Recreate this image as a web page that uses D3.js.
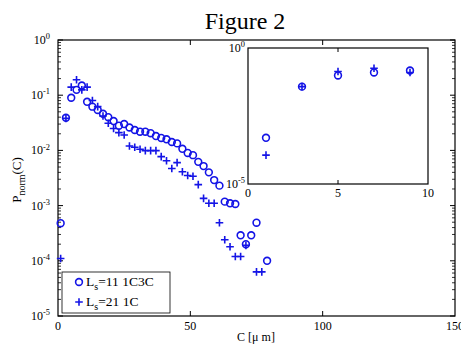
<!DOCTYPE html>
<html>
<head>
<meta charset="utf-8">
<script src="https://cdn.jsdelivr.net/npm/d3@7"></script>
<style>
  body { margin: 0; background: #fff; }
  svg { display: block; font-family: "Liberation Serif", "Times New Roman", serif; }
</style>
</head>
<body>
<svg id="chart" width="461" height="345"></svg>
<script>
// main chart, series "Ls=11 1C3C" (circles)
var circC = [1, 3, 5, 7, 9, 11, 13, 15, 17, 19, 21, 23, 25, 27, 29, 31, 33, 35, 37, 39,
             41, 43, 45, 47, 49, 51, 53, 55, 57, 59, 61, 63, 65, 67, 69, 71, 73, 75, 79];
var circP = [4.8e-4, 0.039, 0.09, 0.125, 0.15, 0.076, 0.062, 0.054, 0.046, 0.040, 0.034, 0.028, 0.030,
             0.026, 0.0234, 0.0218, 0.0218, 0.0205, 0.0182, 0.0168, 0.0159, 0.0142, 0.0134, 0.0107,
             0.0090, 0.0082, 0.0062, 0.0052, 0.0040, 0.0029, 0.0023, 0.00118, 0.00110, 0.00107,
             2.9e-4, 2.0e-4, 2.9e-4, 4.9e-4, 1.0e-4];
// series "Ls=21 1C" (plus)
var plusC = [1, 3, 5, 7, 9, 11, 13, 15, 17, 19, 21, 23, 25, 27, 29, 31, 33, 35, 37, 39,
             41, 43, 45, 47, 49, 51, 53, 55, 57, 59, 61, 63, 65, 67, 69, 71, 75, 77];
var plusP = [1.1e-4, 0.038, 0.14, 0.19, 0.125, 0.14, 0.08, 0.062, 0.042, 0.031, 0.025, 0.021, 0.019,
             0.012, 0.0114, 0.0105, 0.0099, 0.0099, 0.0099, 0.0077, 0.0065, 0.0047, 0.006, 0.0041,
             0.0035, 0.0034, 0.0024, 0.00135, 0.0011, 0.0011, 4.9e-4, 2.4e-4, 1.8e-4, 1.2e-4, 1.2e-4,
             1.9e-4, 6.3e-5, 6.3e-5];

// inset
var insetC = [1, 3, 5, 7, 9];
var insetCirc = [5e-4, 0.038, 0.098, 0.126, 0.149];
var insetPlus = [1.15e-4, 0.038, 0.137, 0.18, 0.126];

var xTicks = [0, 50, 100, 150];
var yExps = [0, -1, -2, -3, -4, -5];
var insetXTicks = [0, 5, 10];
var insetYExps = [0, -5];

var legendLabels = [["11 1C3C", "circle"], ["21 1C", "plus"]];

var blue = "#1414e6";
var svg = d3.select("#chart");

var x = d3.scaleLinear().domain([0, 150]).range([58, 455]);
var y = d3.scaleLog().domain([1e-5, 1]).range([316, 40]);

var xi = d3.scaleLinear().domain([0, 10]).range([248, 428]);
var yi = d3.scaleLog().domain([1e-5, 1]).range([184, 48]);

// title
svg.append("text").attr("x", 245).attr("y", 29).attr("text-anchor", "middle")
  .style("font-size", "24px").text("Figure 2");

function drawFrame(g, sx, sy) {
  var x0 = sx.range()[0], x1 = sx.range()[1], y0 = sy.range()[1], y1 = sy.range()[0];
  g.append("rect").attr("x", x0).attr("y", y0).attr("width", x1 - x0).attr("height", y1 - y0)
    .attr("fill", "#fff").attr("stroke", "#000").attr("stroke-width", 1.2);
}

function supLabel(g, xpos, ypos, exp, size) {
  var t = g.append("text").attr("x", xpos).attr("y", ypos).attr("text-anchor", "end")
    .style("font-size", size + "px");
  t.append("tspan").text("10");
  t.append("tspan").attr("dy", -size * 0.4).style("font-size", (size * 0.7) + "px").text(exp);
}

// main frame
var gm = svg.append("g");
drawFrame(gm, x, y);

// x ticks (bottom + top, inward)
xTicks.forEach(function(v) {
  if (v > 0 && v < 150) {
    gm.append("line").attr("x1", x(v)).attr("x2", x(v)).attr("y1", 316).attr("y2", 311).attr("stroke", "#000");
    gm.append("line").attr("x1", x(v)).attr("x2", x(v)).attr("y1", 40).attr("y2", 45).attr("stroke", "#000");
  }
  gm.append("text").attr("x", x(v)).attr("y", 330).attr("text-anchor", "middle")
    .style("font-size", "12px").text(v);
});

// y ticks with log minors, both sides
yExps.forEach(function(e) {
  var v = Math.pow(10, e);
  [58, 455].forEach(function(xp, i) {
    var d = i === 0 ? 1 : -1;
    gm.append("line").attr("x1", xp).attr("x2", xp + 5 * d).attr("y1", y(v)).attr("y2", y(v)).attr("stroke", "#000");
    if (e > -5) {
      for (var k = 2; k < 10; k++) {
        var yy = y(v * k / 10);
        gm.append("line").attr("x1", xp).attr("x2", xp + 3 * d).attr("y1", yy).attr("y2", yy)
          .attr("stroke", "#000").attr("stroke-width", 0.8);
      }
    }
  });
  supLabel(gm, 50, y(v) + 4, e, 12);
});

// axis titles
svg.append("text").attr("x", 256).attr("y", 341).attr("text-anchor", "middle")
  .style("font-size", "12px").text("C [\u03bc m]");
var yl = svg.append("text").attr("transform", "translate(21,180) rotate(-90)")
  .attr("text-anchor", "middle").style("font-size", "13px");
yl.append("tspan").text("P");
yl.append("tspan").attr("dy", 4).style("font-size", "10px").text("norm");
yl.append("tspan").attr("dy", -4).text("(C)");

function circles(g, cx, cy, xs, ys) {
  g.selectAll(null).data(xs).enter().append("circle")
    .attr("cx", function(d) { return cx(d); })
    .attr("cy", function(d, i) { return cy(ys[i]); })
    .attr("r", 3.4).attr("fill", "none").attr("stroke", blue).attr("stroke-width", 1.6);
}
function pluses(g, cx, cy, xs, ys) {
  g.selectAll(null).data(xs).enter().append("path")
    .attr("d", function(d, i) {
      var px = cx(d), py = cy(ys[i]);
      return "M" + (px - 3.8) + "," + py + "H" + (px + 3.8) + "M" + px + "," + (py - 3.8) + "V" + (py + 3.8);
    })
    .attr("stroke", blue).attr("stroke-width", 1.6).attr("fill", "none");
}

circles(gm, x, y, circC, circP);
pluses(gm, x, y, plusC, plusP);

// legend
var lg = svg.append("g");
lg.append("rect").attr("x", 62).attr("y", 272).attr("width", 108).attr("height", 41)
  .attr("fill", "#fff").attr("stroke", "#000").attr("stroke-width", 0.8);
legendLabels.forEach(function(l, i) {
  var ly = 282 + i * 20;
  if (l[1] === "circle") {
    lg.append("circle").attr("cx", 79).attr("cy", ly).attr("r", 3.4).attr("fill", "none")
      .attr("stroke", blue).attr("stroke-width", 1.6);
  } else {
    lg.append("path").attr("d", "M75.2," + ly + "H82.8M79," + (ly - 3.8) + "V" + (ly + 3.8))
      .attr("stroke", blue).attr("stroke-width", 1.6);
  }
  var t = lg.append("text").attr("x", 86).attr("y", ly + 4).style("font-size", "13.5px");
  t.append("tspan").text("L");
  t.append("tspan").attr("dy", 4).style("font-size", "10px").text("s");
  t.append("tspan").attr("dy", -4).text("=" + l[0]);
});

// inset
var gi = svg.append("g");
drawFrame(gi, xi, yi);
insetXTicks.forEach(function(v) {
  if (v > 0 && v < 10) {
    gi.append("line").attr("x1", xi(v)).attr("x2", xi(v)).attr("y1", 184).attr("y2", 180).attr("stroke", "#000");
    gi.append("line").attr("x1", xi(v)).attr("x2", xi(v)).attr("y1", 48).attr("y2", 52).attr("stroke", "#000");
  }
  gi.append("text").attr("x", xi(v)).attr("y", 197).attr("text-anchor", "middle")
    .style("font-size", "12px").text(v);
});
insetYExps.forEach(function(e) {
  supLabel(gi, 245, yi(Math.pow(10, e)) + 4, e, 12);
});
circles(gi, xi, yi, insetC, insetCirc);
pluses(gi, xi, yi, insetC, insetPlus);
</script>
</body>
</html>
